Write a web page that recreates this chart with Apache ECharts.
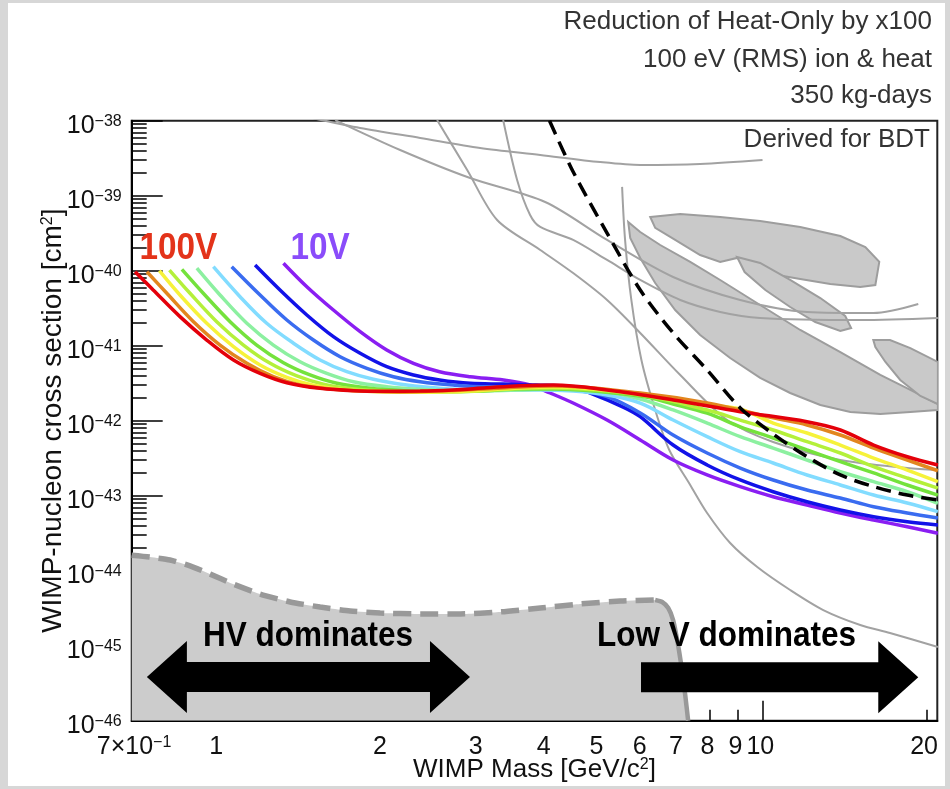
<!DOCTYPE html>
<html>
<head>
<meta charset="utf-8">
<script src="https://cdn.jsdelivr.net/npm/echarts@6/dist/echarts.min.js"></script>
<style>
  html, body { margin: 0; padding: 0; background: #d7d7d7; overflow: hidden; }
  #paper { position: absolute; left: 8px; top: 3px; width: 937px; height: 783px; background: #ffffff; }
  #chart { position: absolute; left: 0; top: 0; width: 950px; height: 789px; }
</style>
</head>
<body>
<div id="paper"></div>
<div id="chart"></div>
<script>
// ---- axis ticks ------------------------------------------------------------
const xMajorTicks = [1, 10];
const xMinorTicks = [0.7, 0.8, 0.9, 2, 3, 4, 5, 6, 7, 8, 9, 20];
const xLabelValues = [0.7, 1, 2, 3, 4, 5, 6, 7, 8, 9, 10, 20];
const yDecadeExponents = [-46, -45, -44, -43, -42, -41, -40, -39, -38];

// ---- projected sensitivity, WIMP mass [GeV/c^2] vs cross section [cm^2] ----
const bias100V = [[0.703,9.7e-41],[0.759,5.53e-41],[0.850,2.44e-41],[0.952,1.19e-41],[1.066,6.45e-42],[1.193,4.28e-42],[1.336,3.21e-42],[1.538,2.70e-42],[1.771,2.51e-42],[2.039,2.47e-42],[2.349,2.48e-42],[2.70,2.57e-42],[3.11,2.75e-42],[3.586,2.93e-42],[4.13,2.99e-42],[5.18,2.57e-42],[6.86,1.89e-42],[9.10,1.32e-42],[12.07,9.7e-43],[13.90,7.52e-43],[16.0,4.74e-43],[18.45,3.31e-43],[21,2.57e-43]];
const bias90V = [[0.739,9.7e-41],[0.804,5.0e-41],[0.900,2.09e-41],[1.007,1.02e-41],[1.128,5.82e-42],[1.262,3.86e-42],[1.413,2.99e-42],[1.627,2.62e-42],[1.874,2.47e-42],[2.158,2.42e-42],[2.70,2.53e-42],[3.586,2.82e-42],[4.13,2.90e-42],[5.96,2.34e-42],[7.91,1.72e-42],[10.46,1.09e-42],[12.07,8.77e-43],[13.9,6.45e-43],[16.0,4.32e-43],[18.45,2.99e-43],[21,2.15e-43]];
const bias80V = [[0.779,1.0e-40],[0.850,4.74e-41],[0.952,1.99e-41],[1.066,9.7e-42],[1.193,5.53e-42],[1.336,3.79e-42],[1.495,2.97e-42],[1.722,2.57e-42],[1.983,2.44e-42],[2.283,2.39e-42],[2.782,2.45e-42],[3.586,2.73e-42],[4.13,2.82e-42],[5.96,2.27e-42],[7.91,1.62e-42],[9.10,1.43e-42],[10.46,9.3e-43],[12.07,6.86e-43],[13.9,4.74e-43],[16.0,3.18e-43],[18.45,2.20e-43],[21,1.54e-43]];
const bias70V = [[0.813,1.02e-40],[0.887,5.0e-41],[0.993,2.09e-41],[1.112,1.02e-41],[1.245,5.82e-42],[1.394,3.95e-42],[1.56,3.06e-42],[1.797,2.62e-42],[2.068,2.47e-42],[2.382,2.42e-42],[2.782,2.44e-42],[3.586,2.69e-42],[4.13,2.73e-42],[5.96,2.20e-42],[7.91,1.39e-42],[9.10,1.02e-42],[10.46,7.52e-43],[12.07,5.25e-43],[13.9,3.71e-43],[16.0,2.44e-43],[18.45,1.72e-43],[21,1.26e-43]];
const bias60V = [[0.857,1.04e-40],[0.938,5.0e-41],[1.051,2.09e-41],[1.176,1.02e-41],[1.317,5.93e-42],[1.474,4.07e-42],[1.651,3.15e-42],[1.900,2.70e-42],[2.188,2.51e-42],[2.52,2.44e-42],[3.027,2.48e-42],[3.586,2.65e-42],[4.13,2.65e-42],[5.96,2.13e-42],[6.85,1.67e-42],[7.91,1.26e-42],[9.10,8.3e-43],[10.46,5.88e-43],[12.07,4.07e-43],[13.9,2.84e-43],[16.0,2.01e-43],[18.45,1.39e-43],[21,1.02e-43]];
const bias50V = [[0.913,1.08e-40],[1.007,4.74e-41],[1.128,1.99e-41],[1.262,1.02e-41],[1.413,6.12e-42],[1.582,4.28e-42],[1.771,3.31e-42],[2.039,2.84e-42],[2.349,2.62e-42],[2.70,2.51e-42],[3.11,2.51e-42],[3.586,2.57e-42],[4.13,2.65e-42],[5.18,2.42e-42],[5.96,1.95e-42],[6.85,1.39e-42],[7.91,9.3e-43],[9.10,6.12e-43],[10.46,4.32e-43],[12.07,2.99e-43],[13.9,2.09e-43],[16.0,1.54e-43],[18.45,1.13e-43],[21,7.92e-44]];
const bias40V = [[0.979,1.13e-40],[1.096,4.50e-41],[1.227,1.99e-41],[1.374,1.08e-41],[1.538,6.45e-42],[1.722,4.50e-42],[1.927,3.57e-42],[2.221,2.99e-42],[2.55,2.70e-42],[2.943,2.57e-42],[3.389,2.57e-42],[3.904,2.57e-42],[4.487,2.48e-42],[5.18,2.20e-42],[5.96,1.72e-42],[6.85,1.02e-42],[7.91,6.12e-43],[9.10,3.86e-43],[10.46,2.73e-43],[12.07,1.89e-43],[13.9,1.39e-43],[16.0,1.02e-43],[18.45,8.0e-44],[21,6.12e-44]];
const bias30V = [[1.058,1.13e-40],[1.193,4.74e-41],[1.336,2.20e-41],[1.495,1.19e-41],[1.674,7.13e-42],[1.874,5.0e-42],[2.097,3.86e-42],[2.349,3.31e-42],[2.70,2.99e-42],[3.11,2.84e-42],[3.586,2.84e-42],[3.904,2.73e-42],[4.487,2.57e-42],[5.18,2.09e-42],[5.96,1.27e-42],[6.85,6.45e-43],[7.91,3.71e-43],[9.10,2.34e-43],[10.46,1.62e-43],[12.07,1.19e-43],[13.9,9.3e-44],[16.0,7.13e-44],[18.45,5.88e-44],[21,5.05e-44]];
const bias20V = [[1.168,1.19e-40],[1.298,5.53e-41],[1.454,2.57e-41],[1.627,1.32e-41],[1.822,7.92e-42],[2.039,5.25e-42],[2.283,4.07e-42],[2.55,3.49e-42],[2.902,3.15e-42],[3.342,3.08e-42],[3.84,2.99e-42],[4.43,2.84e-42],[4.824,2.34e-42],[5.546,1.52e-42],[5.96,1.13e-42],[6.85,4.74e-43],[7.91,2.57e-43],[9.10,1.62e-43],[10.46,1.13e-43],[12.07,8.3e-44],[13.9,6.45e-44],[16.0,5.25e-44],[18.45,4.50e-44],[21,4.07e-44]];
const bias10V = [[1.317,1.26e-40],[1.454,6.12e-41],[1.627,2.99e-41],[1.822,1.54e-41],[2.039,8.77e-42],[2.283,5.82e-42],[2.55,4.50e-42],[2.902,3.86e-42],[3.342,3.49e-42],[3.741,2.99e-42],[4.071,2.34e-42],[4.487,1.72e-42],[5.18,1.02e-42],[5.96,5.53e-43],[6.85,2.99e-43],[7.91,1.89e-43],[9.10,1.32e-43],[10.46,9.7e-44],[12.07,7.52e-44],[13.9,5.88e-44],[16.0,4.74e-44],[18.45,3.86e-44],[21,3.15e-44]];

// limit derived for the BDT analysis
const bdtLimit = [[4.06,1.0e-38],[4.487,2.09e-39],[5.18,3.18e-40],[5.96,5.53e-41],[6.85,1.48e-41],[7.91,4.74e-42],[9.10,1.48e-42],[10.46,6.65e-43],[12.07,3.31e-43],[13.9,1.89e-43],[16.0,1.32e-43],[18.45,1.02e-43],[21,8.77e-44]];

// lower shaded region: dashed part, then the solid cut-off
const floorDashed = [[0.693,1.61e-44],[0.749,1.52e-44],[0.815,1.39e-44],[0.887,1.16e-44],[0.966,9.0e-45],[1.064,6.65e-45],[1.193,4.89e-45],[1.355,3.83e-45],[1.538,3.28e-45],[1.746,2.90e-45],[1.983,2.73e-45],[2.349,2.65e-45],[2.782,2.65e-45],[3.295,2.82e-45],[3.904,3.18e-45],[4.623,3.60e-45],[5.476,3.95e-45],[6.35,4.07e-45]];
const floorEdge = [[6.35,4.07e-45],[6.54,3.83e-45],[6.71,3.18e-45],[6.85,2.20e-45],[6.97,1.19e-45],[7.09,5.53e-46],[7.21,2.20e-46],[7.30,1.0e-46]];

// other experiments: open limit curves
const otherLimitA = [[1.493,1.08e-38],[1.822,8.0e-39],[2.349,5.88e-39],[3.027,4.32e-39],[3.904,3.49e-39],[5.03,2.81e-39],[5.96,2.57e-39],[7.68,2.65e-39],[10.0,2.99e-39]];
const otherLimitB = [[1.639,1.02e-38],[2.158,4.07e-39],[2.902,1.72e-39],[3.986,8.24e-40],[5.18,2.57e-40],[6.85,8.24e-41],[9.10,4.07e-41],[12.07,2.82e-41],[15.98,2.73e-41],[19.33,3.60e-41]];
const otherLimitC = [[2.523,1.02e-38],[2.866,2.20e-39],[3.253,4.74e-40],[3.904,1.89e-40],[4.487,9.3e-41],[5.18,4.07e-41],[5.96,1.48e-41],[7.06,4.07e-42],[8.61,1.02e-42],[10.46,5.2e-43],[13.9,2.99e-43],[18.45,2.34e-43],[21,2.20e-43]];
const otherLimitD = [[3.337,1.02e-38],[3.54,1.62e-39],[3.74,5.53e-40],[3.904,3.83e-40],[4.487,2.57e-40],[5.18,1.39e-40],[5.96,7.52e-41],[7.06,4.07e-41],[8.36,2.82e-41],[9.9,2.34e-41],[15.12,2.20e-41],[21,2.34e-41]];
const otherLimitE = [[5.52,1.31e-39],[5.59,2.57e-40],[5.74,4.07e-41],[5.99,6.45e-42],[6.35,1.39e-42],[6.74,4.07e-43],[7.364,1.39e-43],[7.91,5.88e-44],[8.72,2.34e-44],[9.78,1.12e-44],[11.24,5.53e-45],[12.93,2.99e-45],[15.12,1.89e-45],[17.15,1.48e-45],[21,9.6e-46]];

// other experiments: closed signal regions
const regionA = [[5.665,4.46e-40],[5.96,3.28e-40],[6.486,2.20e-40],[7.364,1.31e-40],[8.36,7.52e-41],[9.90,3.49e-41],[11.73,1.62e-41],[13.90,8.24e-42],[16.46,4.07e-42],[18.69,2.57e-42],[21,1.67e-42],[21,1.39e-42],[18.69,1.31e-42],[16.46,1.23e-42],[14.50,1.31e-42],[12.77,1.62e-42],[11.24,2.34e-42],[9.90,3.72e-42],[8.72,6.86e-42],[7.68,1.39e-41],[6.91,2.99e-41],[6.35,6.86e-41],[5.96,1.48e-40],[5.713,2.73e-40]];
const regionB = [[6.218,5.20e-40],[7.06,5.70e-40],[8.36,5.20e-40],[9.90,4.60e-40],[11.73,3.83e-40],[13.90,2.90e-40],[15.45,2.07e-40],[16.39,1.31e-40],[16.12,6.45e-41],[15.12,6.07e-41],[13.32,6.65e-41],[11.73,7.76e-41],[9.90,9.6e-41],[8.98,1.48e-40],[8.36,1.31e-40],[7.68,1.62e-40],[6.91,2.57e-40],[6.35,3.72e-40]];
const regionC = [[8.98,1.52e-40],[9.90,1.27e-40],[11.24,7.52e-41],[12.77,4.32e-41],[14.19,2.49e-41],[14.55,1.72e-41],[13.90,1.57e-41],[12.50,2.07e-41],[11.24,3.28e-41],[10.12,5.53e-41],[9.27,9.6e-41]];
const regionD = [[15.98,1.19e-41],[17.15,1.19e-41],[18.69,9.3e-42],[21,6.07e-42],[21,1.67e-42],[19.5,2.14e-42],[17.91,3.49e-42],[16.82,6.07e-42],[16.12,9.6e-42]];

// annotation arrows: [start mass, end mass, cross section, double-headed]
const arrowSpans = [[0.739, 2.90, 3.83e-46, 1], [5.98, 19.33, 3.8e-46, 0]];

// ---- styling -----------------------------------------------------------------
const FONT = '"Liberation Sans", Helvetica, Arial, sans-serif';
const biasCurves = [
  { name: '10V',  data: bias10V,  color: '#8a1ef2' },
  { name: '20V',  data: bias20V,  color: '#1212e8' },
  { name: '30V',  data: bias30V,  color: '#3a6cf0' },
  { name: '40V',  data: bias40V,  color: '#82dcff' },
  { name: '50V',  data: bias50V,  color: '#8cf0a0' },
  { name: '60V',  data: bias60V,  color: '#74e23c' },
  { name: '70V',  data: bias70V,  color: '#b4f03a' },
  { name: '80V',  data: bias80V,  color: '#f6f23a' },
  { name: '90V',  data: bias90V,  color: '#e2861e' },
  { name: '100V', data: bias100V, color: '#e4000a' }
];
const otherLimits = [otherLimitA, otherLimitB, otherLimitC, otherLimitD, otherLimitE];
const signalRegions = [regionA, regionB, regionC, regionD];

// the cross-section axis is laid out in decades (log10 of cm^2)
const toDecades = pts => pts.map(p => [p[0], Math.log10(p[1])]);

const supRich = {
  b: { fontSize: 25, fontFamily: FONT, color: '#111', lineHeight: 25, verticalAlign: 'bottom' },
  s: { fontSize: 16, fontFamily: FONT, color: '#111', lineHeight: 16, verticalAlign: 'top', padding: [0, 0, 14, 0] }
};

function yLabel(v) {
  return '{b|10}{s|\u2212' + Math.round(-v) + '}';
}
function xLabel(v) {
  if (Math.abs(v - 0.7) < 1e-6) return '{b|7\u00d710}{s|\u22121}';
  return '{b|' + Math.round(v) + '}{s| }';
}

const yMinor = [];
yDecadeExponents.slice(0, -1).forEach(e => {
  for (let k = 2; k <= 9; k++) yMinor.push(e + Math.log10(k));
});

const X_MIN = 0.693, X_MAX = 20.95, Y_MIN = -46, Y_MAX = -38;

function polygonSeries(points) {
  const pts = toDecades(points);
  return {
    type: 'custom', coordinateSystem: 'cartesian2d', clip: true, silent: true,
    data: [0], z: 3,
    renderItem: function (params, api) {
      return {
        type: 'polygon',
        shape: { points: pts.map(p => api.coord(p)) },
        style: { fill: '#c9c9c9', stroke: '#9d9d9d', lineWidth: 2 }
      };
    }
  };
}

const series = [];
// shaded region at the bottom
series.push({
  type: 'line', data: toDecades(floorDashed.concat(floorEdge.slice(1))), symbol: 'none', smooth: 0.2,
  lineStyle: { width: 0, opacity: 0 }, areaStyle: { color: '#cccccc', opacity: 1, origin: 'start' }, z: 1, silent: true
});
series.push({
  type: 'line', data: toDecades(floorDashed), symbol: 'none', smooth: 0.2,
  lineStyle: { color: '#999999', width: 5.5, type: [18, 9] }, z: 2, silent: true
});
series.push({
  type: 'line', data: toDecades(floorEdge), symbol: 'none', smooth: 0.2,
  lineStyle: { color: '#999999', width: 4.5 }, z: 2, silent: true
});
signalRegions.forEach(r => series.push(polygonSeries(r)));
otherLimits.forEach(d => series.push({
  type: 'line', data: toDecades(d), symbol: 'none', smooth: 0.3,
  lineStyle: { color: '#a2a2a2', width: 2 }, z: 4, silent: true
}));
biasCurves.forEach((c, i) => series.push({
  type: 'line', name: c.name, data: toDecades(c.data), symbol: 'none', smooth: 0.35,
  lineStyle: { color: c.color, width: 3.5 }, z: 5 + i * 0.01, silent: true
}));
series.push({
  type: 'line', name: 'BDT', data: toDecades(bdtLimit), symbol: 'none', smooth: 0.3,
  lineStyle: { color: '#000', width: 3.5, type: [15, 8] }, z: 6, silent: true
});
series.push({
  type: 'custom', coordinateSystem: 'cartesian2d', z: 7, silent: true,
  data: arrowSpans.map(a => [a[0], a[1], Math.log10(a[2]), a[3]]),
  encode: { x: [0, 1], y: 2 },
  renderItem: function (params, api) {
    const p1 = api.coord([api.value(0), api.value(2)]);
    const p2 = api.coord([api.value(1), api.value(2)]);
    const both = api.value(3) === 1;
    const H = 40, HW = 36, BW = 15, y = p1[1];
    const pts = both
      ? [[p1[0], y], [p1[0] + H, y - HW], [p1[0] + H, y - BW], [p2[0] - H, y - BW], [p2[0] - H, y - HW], [p2[0], y],
         [p2[0] - H, y + HW], [p2[0] - H, y + BW], [p1[0] + H, y + BW], [p1[0] + H, y + HW]]
      : [[p1[0], y - BW], [p2[0] - H, y - BW], [p2[0] - H, y - HW], [p2[0], y], [p2[0] - H, y + HW],
         [p2[0] - H, y + BW], [p1[0], y + BW]];
    return { type: 'polygon', shape: { points: pts }, style: { fill: '#000' } };
  }
});

const titleRich = { s: { fontSize: 16, fontFamily: FONT, color: '#111', verticalAlign: 'top', lineHeight: 16, padding: [0, 0, 12, 0] } };

const option = {
  animation: false,
  backgroundColor: 'transparent',
  grid: {
    left: 131.7, top: 120.7, width: 805.6, height: 600, outerBoundsMode: 'none', containLabel: false,
    show: true, borderColor: '#222', borderWidth: 2, backgroundColor: 'transparent'
  },
  xAxis: [
    {
      type: 'log', logBase: 10, min: X_MIN, max: X_MAX,
      name: 'WIMP Mass [GeV/c{s|2}]', nameLocation: 'middle', nameGap: 36, nameMoveOverlap: false,
      nameTextStyle: { fontSize: 26, fontFamily: FONT, color: '#111', rich: titleRich },
      axisLine: { show: true, lineStyle: { color: '#000', width: 2 } },
      axisTick: { show: true, inside: true, length: 20, customValues: xMajorTicks, lineStyle: { color: '#000', width: 1.5 } },
      axisLabel: { show: true, margin: 14, customValues: xLabelValues, formatter: xLabel, rich: supRich },
      splitLine: { show: false }, minorTick: { show: false }
    },
    {
      type: 'log', logBase: 10, min: X_MIN, max: X_MAX, position: 'bottom',
      axisLine: { show: false },
      axisTick: { show: true, inside: true, length: 11, customValues: xMinorTicks, lineStyle: { color: '#000', width: 1.5 } },
      axisLabel: { show: false }, splitLine: { show: false }
    }
  ],
  yAxis: [
    {
      type: 'value', min: Y_MIN, max: Y_MAX, interval: 1,
      name: 'WIMP-nucleon cross section [cm{s|2}]', nameLocation: 'middle', nameGap: 64, nameMoveOverlap: false,
      nameTextStyle: { fontSize: 28, fontFamily: FONT, color: '#111', rich: titleRich },
      axisLine: { show: true, lineStyle: { color: '#000', width: 2 } },
      axisTick: { show: true, inside: true, length: 31, customValues: yDecadeExponents, lineStyle: { color: '#000', width: 1.5 } },
      axisLabel: { show: true, margin: 10, padding: [10, 0, 0, 0], customValues: yDecadeExponents, formatter: yLabel, rich: supRich },
      splitLine: { show: false }
    },
    {
      type: 'value', min: Y_MIN, max: Y_MAX, interval: 1, position: 'left',
      axisLine: { show: false },
      axisTick: { show: true, inside: true, length: 15, customValues: yMinor, lineStyle: { color: '#000', width: 1.5 } },
      axisLabel: { show: false }, splitLine: { show: false }
    }
  ],
  series: series,
  graphic: [
    { type: 'text', x: 932, y: 22, style: { text: 'Reduction of Heat-Only by x100', font: '26px ' + FONT, fill: '#333', align: 'right', verticalAlign: 'middle' } },
    { type: 'text', x: 932, y: 60, style: { text: '100 eV (RMS) ion & heat', font: '26px ' + FONT, fill: '#333', align: 'right', verticalAlign: 'middle' } },
    { type: 'text', x: 932, y: 96, style: { text: '350 kg-days', font: '26px ' + FONT, fill: '#333', align: 'right', verticalAlign: 'middle' } },
    { type: 'text', x: 930, y: 140, z: 20, style: { text: 'Derived for BDT', font: '26px ' + FONT, fill: '#333', align: 'right', verticalAlign: 'middle' } },
    { type: 'text', x: 139.5, y: 249, scaleX: 0.9, z: 20, style: { text: '100V', font: 'bold 37px ' + FONT, fill: '#e3331a', align: 'left', verticalAlign: 'middle' } },
    { type: 'text', x: 290.5, y: 249, scaleX: 0.9, z: 20, style: { text: '10V', font: 'bold 37px ' + FONT, fill: '#8a4cfa', align: 'left', verticalAlign: 'middle' } },
    { type: 'text', x: 203, y: 636, scaleX: 0.9, z: 20, style: { text: 'HV dominates', font: 'bold 35px ' + FONT, fill: '#000', align: 'left', verticalAlign: 'middle' } },
    { type: 'text', x: 597, y: 636, scaleX: 0.9, z: 20, style: { text: 'Low V dominates', font: 'bold 35px ' + FONT, fill: '#000', align: 'left', verticalAlign: 'middle' } }
  ]
};

const chart = echarts.init(document.getElementById('chart'), null, { renderer: 'canvas' });
chart.setOption(option);
</script>
</body>
</html>
